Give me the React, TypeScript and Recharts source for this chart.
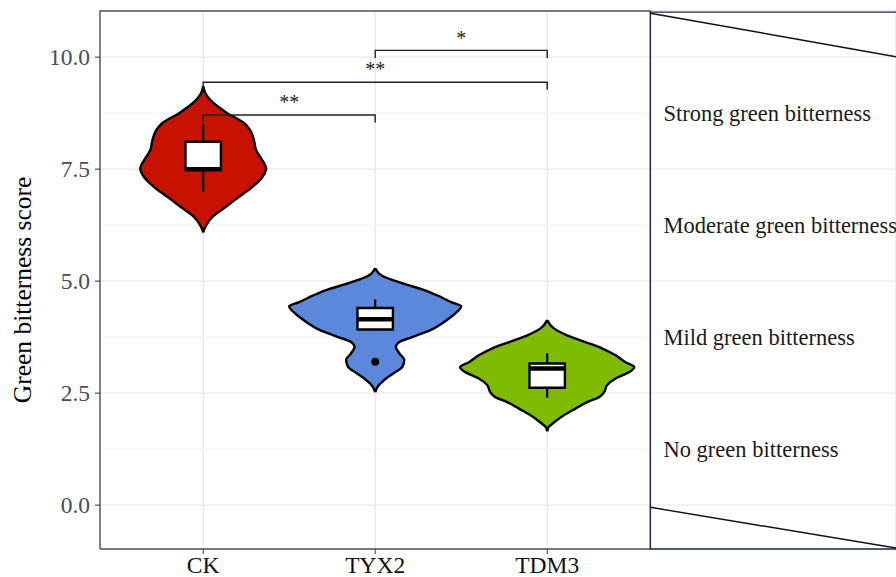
import { Area, CartesianGrid, ComposedChart, Line, Scatter, XAxis, YAxis } from 'recharts';

const serif = '"Liberation Serif", "Times New Roman", serif';

// groups on a numeric x axis (1, 2, 3) so the violins can be drawn as ranges
const groups = ['CK', 'TYX2', 'TDM3'];
const groupX = [1, 2, 3];
const fills = ['#c81200', '#5b88db', '#7fbb00'];

// violin outlines: score level -> half width (in group units)
const ckLevels = [9.35, 9.2, 9.04, 8.75, 8.53, 8.37, 8.15, 7.92, 7.7, 7.52, 7.32, 7.1, 6.88, 6.65, 6.43, 6.21, 6.09];
const ckHalf = [0, 0.012, 0.042, 0.14, 0.237, 0.273, 0.295, 0.308, 0.343, 0.366, 0.343, 0.285, 0.208, 0.128, 0.052, 0.012, 0];
const tyx2Levels = [5.29, 5.12, 4.96, 4.8, 4.64, 4.53, 4.44, 4.29, 4.2, 4.06, 3.91, 3.75, 3.64, 3.53, 3.39, 3.24, 3.08, 2.95, 2.79, 2.63, 2.52];
const tyx2Half = [0, 0.04, 0.151, 0.285, 0.384, 0.442, 0.5, 0.469, 0.44, 0.39, 0.324, 0.215, 0.14, 0.12, 0.14, 0.169, 0.157, 0.11, 0.052, 0.012, 0];
const tdm3Levels = [4.13, 3.95, 3.79, 3.64, 3.5, 3.35, 3.19, 3.08, 2.97, 2.83, 2.68, 2.52, 2.41, 2.3, 2.16, 2.01, 1.85, 1.74, 1.65];
const tdm3Half = [0, 0.037, 0.115, 0.221, 0.318, 0.395, 0.455, 0.506, 0.477, 0.4, 0.349, 0.331, 0.302, 0.233, 0.167, 0.099, 0.041, 0.008, 0];
const violinLevels = [ckLevels, tyx2Levels, tdm3Levels];
const violinHalf = [ckHalf, tyx2Half, tdm3Half];

// boxplot stats
const q1 = [7.49, 3.92, 2.62];
const median = [7.5, 4.15, 3.05];
const q3 = [8.11, 4.4, 3.16];
const whiskLo = [7.0, 3.92, 2.4];
const whiskHi = [8.5, 4.59, 3.39];
const outliers = [{ x: 2, y: 3.2 }];
const boxHalf = 0.103;

// significance brackets
const bracketFrom = [1, 1, 2];
const bracketTo = [2, 3, 3];
const bracketY = [8.71, 9.44, 10.15];
const bracketStars = ['**', '**', '*'];
const tickDrop = 0.17;

// right side panel
const levelLabels = ['Strong green bitterness', 'Moderate green bitterness', 'Mild green bitterness', 'No green bitterness'];
const levelMid = [8.75, 6.25, 3.75, 1.25];

const yTicks = [0, 2.5, 5, 7.5, 10];
const minorTicks = [1.25, 3.75, 6.25, 8.75];
const yMin = -0.98;
const yMax = 11.03;
const panelEnd = 3.6;
const xMax = 5.028;

const starData = bracketY.map((y, i) => ({ x: (bracketFrom[i] + bracketTo[i]) / 2, y: y + 0.13, label: bracketStars[i] }));
const levelData = levelMid.map((y, i) => ({ x: panelEnd + 0.076, y, label: levelLabels[i] }));

const StarText = (p: any) => (
  <text x={p.cx} y={p.cy} textAnchor="middle" fontSize={20} fontFamily={serif} fill="#222">
    {p.payload.label}
  </text>
);
const LevelText = (p: any) => (
  <text x={p.cx} y={p.cy} textAnchor="start" dominantBaseline="central" fontSize={22.5} fontFamily={serif} fill="#1a1a1a">
    {p.payload.label}
  </text>
);
const Dot = (p: any) => <circle cx={p.cx} cy={p.cy} r={4} fill="#000" />;

export default function App() {
  const seg = (key: string, data: any[], stroke: string, width: number, extra: any = {}) => (
    <Line
      key={key}
      data={data}
      dataKey="x"
      type="linear"
      stroke={stroke}
      strokeWidth={width}
      dot={false}
      activeDot={false}
      isAnimationActive={false}
      legendType="none"
      {...extra}
    />
  );

  return (
    <div style={{ position: 'absolute', left: 0, top: 0, width: 896, height: 577, overflow: 'hidden', background: '#fff' }}>
      <ComposedChart width={896} height={577} layout="vertical" margin={{ top: 11, right: 0, bottom: 0, left: 0 }}>
        <CartesianGrid stroke="#e8e8e8" strokeWidth={1.4} />
        <XAxis
          type="number"
          dataKey="x"
          domain={[0.4, xMax]}
          ticks={groupX}
          interval={0}
          tickFormatter={(v: number) => groups[groupX.indexOf(v)] ?? ''}
          axisLine={false}
          tickLine={{ stroke: '#333' }}
          tickSize={5}
          tickMargin={2}
          height={28}
          tick={{ fontSize: 23.5, fill: '#111', fontFamily: serif }}
        />
        <YAxis
          type="number"
          dataKey="y"
          reversed
          domain={[yMin, yMax]}
          ticks={yTicks}
          interval={0}
          tickFormatter={(v: number) => v.toFixed(1)}
          axisLine={false}
          tickLine={{ stroke: '#333' }}
          tickSize={5}
          tickMargin={5}
          width={100}
          tick={{ fontSize: 23.5, fill: '#4d4d4d', fontFamily: serif }}
          label={{
            value: 'Green bitterness score',
            angle: -90,
            position: 'center',
            dx: -28,
            dy: 10,
            style: { fontSize: 25.5, fill: '#000', fontFamily: serif },
          }}
        />

        {minorTicks.map((y, i) =>
          seg(`minor${i}`, [{ x: 0.4, y }, { x: panelEnd, y }], '#f1f1f1', 1, { zIndex: -90 })
        )}

        {groupX.map((c, i) => (
          <Area
            key={`violin${i}`}
            data={violinLevels[i].map((y, k) => ({ y, band: [c - violinHalf[i][k], c + violinHalf[i][k]] }))}
            dataKey="band"
            type="monotone"
            fill={fills[i]}
            fillOpacity={1}
            stroke="#000"
            strokeWidth={2.4}
            isAnimationActive={false}
            legendType="none"
          />
        ))}

        {groupX.map((c, i) => (
          <Area
            key={`boxfill${i}`}
            data={[
              { y: q1[i], band: [c - boxHalf, c + boxHalf] },
              { y: q3[i], band: [c - boxHalf, c + boxHalf] },
            ]}
            dataKey="band"
            type="linear"
            fill="#fff"
            fillOpacity={1}
            stroke="none"
            isAnimationActive={false}
            legendType="none"
          />
        ))}

        {groupX.map((c, i) =>
          seg(
            `box${i}`,
            [
              { x: c - boxHalf, y: q1[i] },
              { x: c - boxHalf, y: q3[i] },
              { x: c + boxHalf, y: q3[i] },
              { x: c + boxHalf, y: q1[i] },
              { x: c - boxHalf, y: q1[i] },
            ],
            '#000',
            2.4,
            { strokeLinejoin: 'miter', strokeLinecap: 'square' }
          )
        )}
        {groupX.map((c, i) => seg(`whiHi${i}`, [{ x: c, y: q3[i] }, { x: c, y: whiskHi[i] }], '#000', 2.2))}
        {groupX.map((c, i) =>
          whiskLo[i] < q1[i] ? seg(`whiLo${i}`, [{ x: c, y: whiskLo[i] }, { x: c, y: q1[i] }], '#000', 2.2) : null
        )}
        {groupX.map((c, i) =>
          seg(`med${i}`, [{ x: c - boxHalf, y: median[i] }, { x: c + boxHalf, y: median[i] }], '#000', 4.5)
        )}

        <Scatter data={outliers} shape={Dot} isAnimationActive={false} legendType="none" />

        {bracketY.map((y, i) =>
          seg(
            `br${i}`,
            [
              { x: bracketFrom[i], y: y - tickDrop },
              { x: bracketFrom[i], y },
              { x: bracketTo[i], y },
              { x: bracketTo[i], y: y - tickDrop },
            ],
            '#222',
            1.4
          )
        )}
        <Scatter data={starData} shape={StarText} isAnimationActive={false} legendType="none" />

        {seg('panelL', [
          { x: 0.4, y: yMin },
          { x: 0.4, y: yMax },
          { x: panelEnd, y: yMax },
          { x: panelEnd, y: yMin },
          { x: 0.4, y: yMin },
        ], '#555', 1.4)}
        {seg('panelR', [
          { x: xMax, y: 11.005 },
          { x: panelEnd, y: 11.005 },
          { x: panelEnd, y: yMin },
          { x: xMax, y: yMin },
        ], '#1f2d4a', 1.3)}
        {seg('diagTop', [{ x: panelEnd, y: 10.98 }, { x: xMax, y: 10.01 }], '#111', 1.5)}
        {seg('diagBot', [{ x: panelEnd, y: -0.05 }, { x: xMax, y: -0.96 }], '#111', 1.5)}

        <Scatter data={levelData} shape={LevelText} isAnimationActive={false} legendType="none" />
      </ComposedChart>
    </div>
  );
}
